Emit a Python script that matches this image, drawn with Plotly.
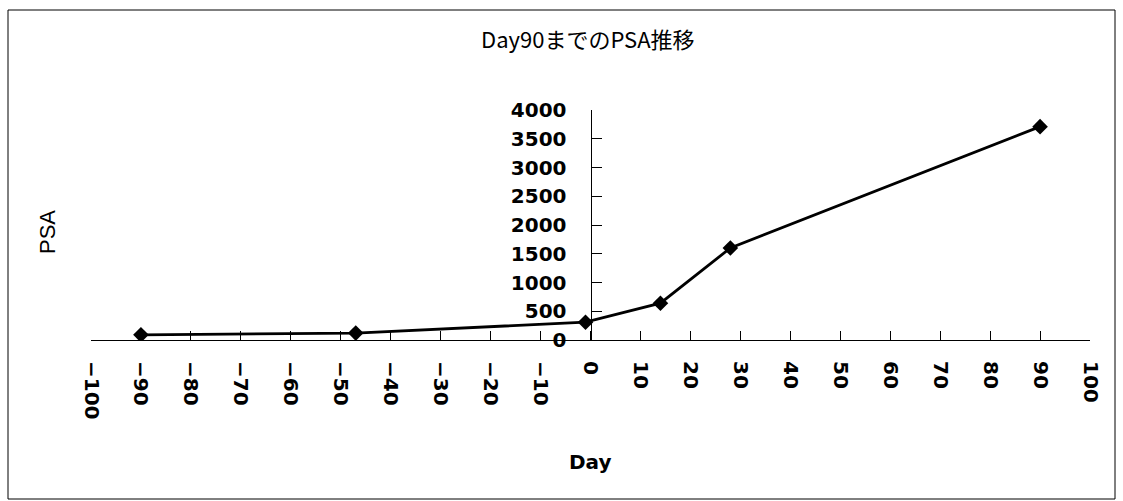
import plotly.graph_objects as go

# PSA measurements by day (day 0 = start of treatment)
days = [-90, -47, -1, 14, 28, 90]
psa = [90, 120, 310, 640, 1600, 3710]

x_ticks = list(range(-100, 101, 10))
y_ticks = list(range(0, 4001, 500))

title_text = "Day90までのPSA推移"
x_title = "Day"
y_title = "PSA"

W, H = 1123, 501
L, R, T, B = 91, 33, 110, 161
PW, PH = W - L - R, H - T - B


def px_x(px):
    return (px - L) / PW


def px_y(py):
    return (H - B - py) / PH


tick_font = dict(family="DejaVu Sans", size=20, color="black", weight="bold")

fig = go.Figure()
fig.add_trace(go.Scatter(
    x=days, y=psa, mode="lines+markers",
    line=dict(color="black", width=2.8),
    marker=dict(symbol="diamond", size=12, color="black"),
    showlegend=False,
))

fig.update_layout(
    width=W, height=H,
    margin=dict(l=L, r=R, t=T, b=B),
    paper_bgcolor="white", plot_bgcolor="white",
    xaxis=dict(
        range=[-100, 100], tickvals=x_ticks, ticktext=[str(v).replace("-", "−") for v in x_ticks],
        tickangle=90, ticks="inside", ticklen=9, tickcolor="black", tickwidth=1,
        showline=True, linecolor="black", linewidth=1,
        showgrid=False, zeroline=False, tickfont=tick_font,
        ticklabelstandoff=16, anchor="y",
    ),
    yaxis=dict(
        range=[0, 4000], tickvals=y_ticks,
        ticks="inside", ticklen=10, tickcolor="black", tickwidth=1,
        showline=True, linecolor="black", linewidth=1,
        showgrid=False, zeroline=False, tickfont=tick_font,
        anchor="free", position=0.5, side="left",
        ticklabelstandoff=20,
    ),
    shapes=[dict(
        type="rect", xref="paper", yref="paper",
        x0=px_x(8), x1=px_x(1115), y0=px_y(499), y1=px_y(10),
        line=dict(color="black", width=1), fillcolor="rgba(0,0,0,0)",
    )],
    annotations=[
        dict(text=title_text, xref="paper", yref="paper", x=px_x(588), y=px_y(38),
             showarrow=False, xanchor="center", yanchor="middle",
             font=dict(family="Noto Sans CJK JP", size=22, color="black")),
        dict(text=x_title, xref="paper", yref="paper", x=px_x(590), y=px_y(462),
             showarrow=False, xanchor="center", yanchor="middle",
             font=dict(family="DejaVu Sans", size=20, color="black", weight="bold")),
        dict(text=y_title, xref="paper", yref="paper", x=px_x(47), y=px_y(232),
             showarrow=False, xanchor="center", yanchor="middle", textangle=-90,
             font=dict(family="Liberation Sans", size=22, color="black")),
    ],
)

fig.write_html("out.html")
